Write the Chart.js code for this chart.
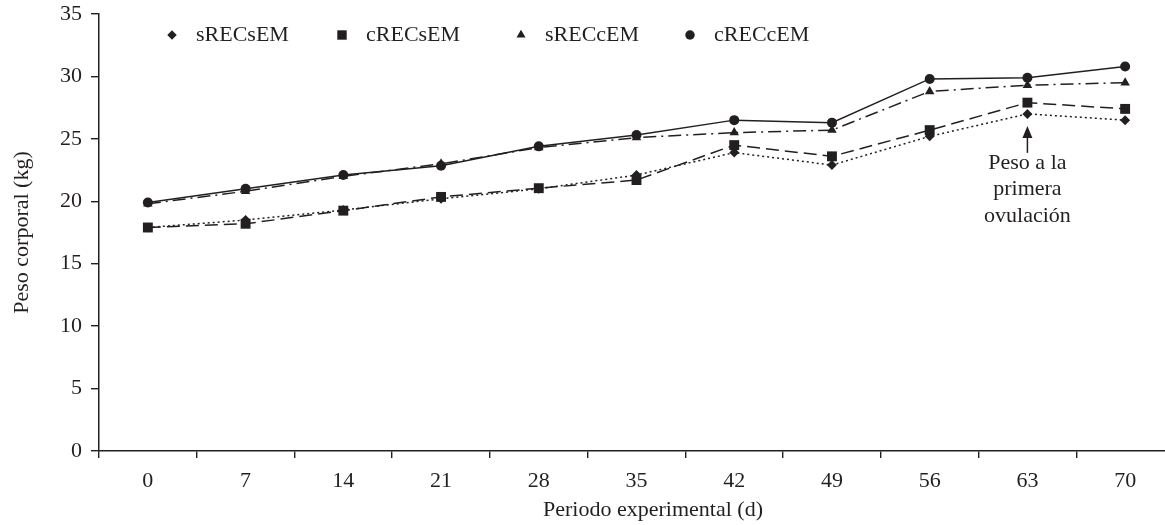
<!DOCTYPE html>
<html>
<head>
<meta charset="utf-8">
<script src="https://cdn.jsdelivr.net/npm/chart.js@4/dist/chart.umd.min.js"></script>
<style>
    html, body { margin: 0; padding: 0; background: #fff; overflow: hidden; }
    #wrap { width: 1181px; height: 525px; }
</style>
</head>
<body>
<div id="wrap"><canvas id="chartPeso" width="1181" height="525"></canvas></div>
<script>
let dias = ["0", "7", "14", "21", "28", "35", "42", "49", "56", "63", "70"];
let sRECsEM = [17.9, 18.5, 19.3, 20.2, 21.0, 22.1, 23.9, 22.9, 25.2, 27.0, 26.5];
let cRECsEM = [17.9, 18.2, 19.25, 20.35, 21.05, 21.7, 24.5, 23.6, 25.7, 27.9, 27.4];
let sRECcEM = [19.8, 20.8, 22.0, 23.0, 24.3, 25.1, 25.5, 25.7, 28.8, 29.3, 29.5];
let cRECcEM = [19.9, 21.0, 22.1, 22.85, 24.4, 25.3, 26.5, 26.3, 29.8, 29.9, 30.8];
let yTicks = [0, 5, 10, 15, 20, 25, 30, 35];

let ink = "#231f20";
let serif = "'Liberation Serif', 'Times New Roman', serif";

let series = [
    { label: "sRECsEM", data: sRECsEM, pointStyle: "rectRot", radius: 5, dash: [2, 3] },
    { label: "cRECsEM", data: cRECsEM, pointStyle: "rect", radius: 7, dash: [13, 6] },
    { label: "sRECcEM", data: sRECcEM, pointStyle: "triangle", radius: 5.5, dash: [13, 5, 2, 5] },
    { label: "cRECcEM", data: cRECcEM, pointStyle: "circle", radius: 5, dash: [] },
];

// leyenda dentro del area del grafico + titulo del eje x
let leyendaPlugin = {
    id: "leyenda",
    afterDraw(chart) {
        let c = chart.ctx;
        let xs = [172, 342, 521, 690];
        c.save();
        c.font = "22px " + serif;
        c.textBaseline = "middle";
        series.forEach((s, i) => {
            c.fillStyle = ink;
            c.strokeStyle = ink;
            Chart.helpers.drawPoint(c, { pointStyle: s.pointStyle, radius: s.radius * 0.95, rotation: 0, borderWidth: 0 }, xs[i], 35);
            c.fillText(s.label, xs[i] + 24, 35);
        });
        c.textAlign = "center";
        c.fillText("Periodo experimental (d)", 653, 510);
        c.restore();
    },
};

// flecha "Peso a la primera ovulacion"
let flechaPlugin = {
    id: "flecha",
    afterDraw(chart) {
        let c = chart.ctx;
        let x = chart.scales.x.getPixelForValue(9);
        let y = chart.scales.y.getPixelForValue(sRECsEM[9]) + 12;
        c.save();
        c.strokeStyle = ink;
        c.fillStyle = ink;
        c.lineWidth = 1.5;
        c.beginPath();
        c.moveTo(x, y + 8);
        c.lineTo(x, y + 27);
        c.stroke();
        c.beginPath();
        c.moveTo(x, y);
        c.lineTo(x - 5, y + 12);
        c.lineTo(x + 5, y + 12);
        c.closePath();
        c.fill();
        c.font = "22px " + serif;
        c.textAlign = "center";
        c.textBaseline = "middle";
        c.fillText("Peso a la", x, y + 37);
        c.fillText("primera", x, y + 63);
        c.fillText("ovulación", x, y + 90);
        c.restore();
    },
};

let ctx = document.getElementById("chartPeso").getContext("2d");
let myChart = new Chart(ctx, {
    type: "line",
    data: {
        labels: dias,
        datasets: series.map((s) => ({
            label: s.label,
            data: s.data,
            borderColor: ink,
            backgroundColor: ink,
            borderWidth: 1.5,
            borderDash: s.dash,
            pointStyle: s.pointStyle,
            pointRadius: s.radius,
            pointBorderWidth: 0,
            tension: 0,
        })),
    },
    options: {
        responsive: false,
        animation: false,
        layout: { padding: { top: 14, right: 2, left: 0, bottom: 0 } },
        plugins: {
            legend: { display: false },
            tooltip: { enabled: false },
        },
        scales: {
            x: {
                offset: true,
                grid: { offset: true, drawOnChartArea: false, tickLength: 7, color: ink, lineWidth: 1.4 },
                border: { color: ink, width: 1.5 },
                ticks: { color: ink, font: { family: serif, size: 22 }, padding: 10, maxRotation: 0 },
                afterFit(scale) {
                    scale.height = 74;
                    scale.paddingLeft = 0;
                    scale.paddingRight = 0;
                },
            },
            y: {
                min: 0,
                max: 35,
                afterBuildTicks(scale) { scale.ticks = yTicks.map((v) => ({ value: v })); },
                grid: { drawOnChartArea: false, tickLength: 8, color: ink, lineWidth: 1.4 },
                border: { color: ink, width: 1.5 },
                ticks: { color: ink, font: { family: serif, size: 22 }, padding: 9 },
                title: {
                    display: true,
                    text: "Peso corporal (kg)",
                    color: ink,
                    font: { family: serif, size: 22 },
                    padding: { top: 9, bottom: 8 },
                },
                afterFit(scale) {
                    scale.width = 99;
                    scale.paddingTop = 0;
                    scale.paddingBottom = 0;
                },
            },
        },
    },
    plugins: [leyendaPlugin, flechaPlugin],
});
</script>
</body>
</html>
